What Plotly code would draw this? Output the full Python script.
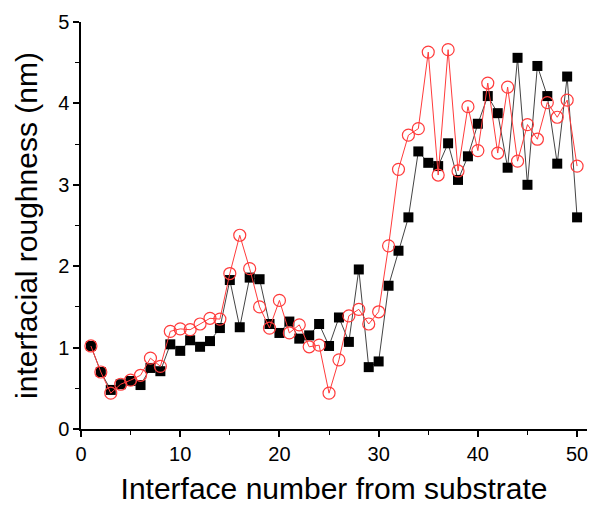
import plotly.graph_objects as go

interface = list(range(1, 51))
rough_black = [1.02, 0.70, 0.48, 0.55, 0.59, 0.54, 0.75, 0.71, 1.04, 0.96,
               1.09, 1.01, 1.08, 1.24, 1.83, 1.25, 1.86, 1.84, 1.29, 1.18,
               1.32, 1.11, 1.15, 1.29, 1.02, 1.37, 1.07, 1.96, 0.76, 0.83,
               1.76, 2.19, 2.60, 3.41, 3.27, 3.23, 3.51, 3.06, 3.35, 3.75,
               4.09, 3.88, 3.21, 4.56, 3.00, 4.46, 4.09, 3.26, 4.33, 2.60]
rough_red = [1.02, 0.70, 0.44, 0.55, 0.60, 0.66, 0.87, 0.77, 1.20, 1.23,
             1.22, 1.29, 1.36, 1.35, 1.91, 2.38, 1.97, 1.50, 1.24, 1.58,
             1.18, 1.28, 1.01, 1.03, 0.44, 0.85, 1.39, 1.47, 1.29, 1.44,
             2.25, 3.19, 3.61, 3.69, 4.63, 3.12, 4.66, 3.17, 3.96, 3.42,
             4.25, 3.39, 4.20, 3.29, 3.74, 3.56, 4.01, 3.83, 4.04, 3.23]

font = "Liberation Sans, Arial, sans-serif"

fig = go.Figure()
fig.add_trace(go.Scatter(
    x=interface, y=rough_black, mode="lines+markers",
    line=dict(color="#444444", width=1),
    marker=dict(symbol="square", size=10, color="black", line=dict(width=0)),
    showlegend=False))
fig.add_trace(go.Scatter(
    x=interface, y=rough_red, mode="lines+markers",
    line=dict(color="#ff3b3b", width=1),
    marker=dict(symbol="circle-open", size=12, color="#ff3b3b", line=dict(width=1.2)),
    showlegend=False))

fig.update_layout(
    width=590, height=506,
    margin=dict(l=81, r=3, t=22, b=77, autoexpand=False),
    paper_bgcolor="white", plot_bgcolor="white",
    font=dict(family=font, color="black"),
    xaxis=dict(range=[0, 51], tickvals=[0, 10, 20, 30, 40, 50], automargin=False,
               showgrid=False, zeroline=False, showline=True, linecolor="black", linewidth=1.5,
               ticks="outside", ticklen=6, tickwidth=1.5, tickcolor="black",
               minor=dict(dtick=5, ticks="outside", ticklen=4, tickwidth=1.2, tickcolor="black"),
               tickfont=dict(size=20, family=font),
               title=dict(text="Interface number from substrate", font=dict(size=30, family=font), standoff=14)),
    yaxis=dict(range=[0, 5], tickvals=[0, 1, 2, 3, 4, 5], automargin=False,
               showgrid=False, zeroline=False, showline=True, linecolor="black", linewidth=1.5,
               ticks="outside", ticklen=6, tickwidth=1.5, tickcolor="black",
               minor=dict(dtick=0.5, ticks="outside", ticklen=4, tickwidth=1.2, tickcolor="black"),
               tickfont=dict(size=20, family=font),
               title=dict(text="interfacial roughness (nm)", font=dict(size=30, family=font), standoff=12)),
)

fig.write_html(
    "out.html",
    config={"displayModeBar": False},
    post_script="document.body.style.margin='0';document.body.style.overflow='hidden';",
)
